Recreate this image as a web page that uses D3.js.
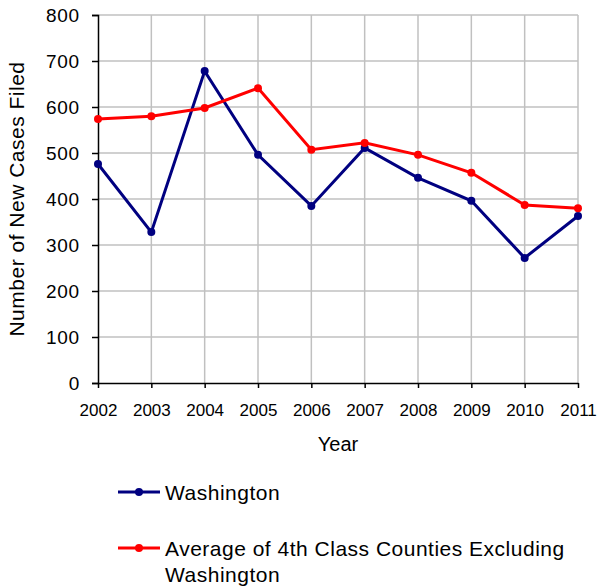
<!DOCTYPE html>
<html>
<head>
<meta charset="utf-8">
<script src="https://cdn.jsdelivr.net/npm/d3@7"></script>
<style>
  body { margin: 0; background: #fff; }
  text { font-family: "Liberation Sans", Arial, sans-serif; fill: #000; }
</style>
</head>
<body>
<div id="chart"></div>
<script>
var years = [2002, 2003, 2004, 2005, 2006, 2007, 2008, 2009, 2010, 2011];
var washington = [476, 328, 678, 496, 385, 511, 446, 396, 272, 363];
var average = [574, 580, 598, 641, 507, 522, 496, 457, 387, 380];
var yTicks = [0, 100, 200, 300, 400, 500, 600, 700, 800];

var width = 598, height = 588;
var margin = {left: 98, right: 20, top: 15, bottom: 205};

var svg = d3.select('#chart').append('svg')
  .attr('width', width)
  .attr('height', height);

var x = d3.scalePoint()
  .domain(years)
  .range([margin.left, width - margin.right]);

var y = d3.scaleLinear()
  .domain([0, 800])
  .range([height - margin.bottom, margin.top]);

// grid
svg.append('g').selectAll('line')
  .data(yTicks.slice(1))
  .enter().append('line')
  .attr('x1', margin.left).attr('x2', width - margin.right)
  .attr('y1', function(d) { return y(d); }).attr('y2', function(d) { return y(d); })
  .attr('stroke', '#c0c0c0').attr('stroke-width', 1.5);

svg.append('g').selectAll('line')
  .data(years.slice(1))
  .enter().append('line')
  .attr('x1', function(d) { return x(d); }).attr('x2', function(d) { return x(d); })
  .attr('y1', y(0)).attr('y2', y(800))
  .attr('stroke', '#c0c0c0').attr('stroke-width', 1.5);

// axes
var yAxis = svg.append('g')
  .attr('transform', 'translate(' + margin.left + ',0)')
  .call(d3.axisLeft(y).tickValues(yTicks).tickSize(6).tickPadding(12));
yAxis.select('.domain').attr('stroke', '#000').attr('stroke-width', 1.5);
yAxis.selectAll('.tick line').attr('stroke', '#000').attr('stroke-width', 1.5);
yAxis.selectAll('text').style('font-size', '19px').style('letter-spacing', '0.8px');

var xAxis = svg.append('g')
  .attr('transform', 'translate(0,' + y(0) + ')')
  .call(d3.axisBottom(x).tickSize(5).tickPadding(16).tickSizeOuter(0));
xAxis.select('.domain').attr('stroke', '#000').attr('stroke-width', 1.5);
xAxis.selectAll('.tick line').attr('stroke', '#000').attr('stroke-width', 1.5);
xAxis.selectAll('text').style('font-size', '17px');

svg.append('text')
  .attr('x', 338).attr('y', 451)
  .attr('text-anchor', 'middle')
  .style('font-size', '20px')
  .text('Year');

svg.append('text')
  .attr('transform', 'translate(24,199) rotate(-90)')
  .attr('text-anchor', 'middle')
  .style('font-size', '21px')
  .style('letter-spacing', '0.5px')
  .text('Number of New Cases Filed');

// series
var series = [
  {name: 'Washington', values: washington, color: '#000080'},
  {name: 'Average', values: average, color: '#ff0000'}
];

var line = d3.line()
  .x(function(d, i) { return x(years[i]); })
  .y(function(d) { return y(d); });

series.forEach(function(s) {
  svg.append('path')
    .datum(s.values)
    .attr('d', line)
    .attr('fill', 'none')
    .attr('stroke', s.color)
    .attr('stroke-width', 3);
  svg.append('g').selectAll('circle')
    .data(s.values)
    .enter().append('circle')
    .attr('cx', function(d, i) { return x(years[i]); })
    .attr('cy', function(d) { return y(d); })
    .attr('r', 4)
    .attr('fill', s.color);
});

// legend
var legend = [
  {lines: ['Washington'], color: '#000080', y: 492},
  {lines: ['Average of 4th Class Counties Excluding', 'Washington'], color: '#ff0000', y: 548}
];

var lg = svg.append('g').selectAll('g')
  .data(legend)
  .enter().append('g')
  .attr('transform', function(d) { return 'translate(0,' + d.y + ')'; });

lg.append('line')
  .attr('x1', 118).attr('x2', 160)
  .attr('stroke', function(d) { return d.color; })
  .attr('stroke-width', 3);
lg.append('circle')
  .attr('cx', 139).attr('r', 4)
  .attr('fill', function(d) { return d.color; });
lg.append('text')
  .attr('x', 165)
  .attr('y', 8)
  .style('font-size', '21px')
  .style('letter-spacing', '0.5px')
  .selectAll('tspan')
  .data(function(d) { return d.lines; })
  .enter().append('tspan')
  .attr('x', 165)
  .attr('dy', function(d, i) { return i === 0 ? 0 : 26; })
  .text(function(d) { return d; });
</script>
</body>
</html>
